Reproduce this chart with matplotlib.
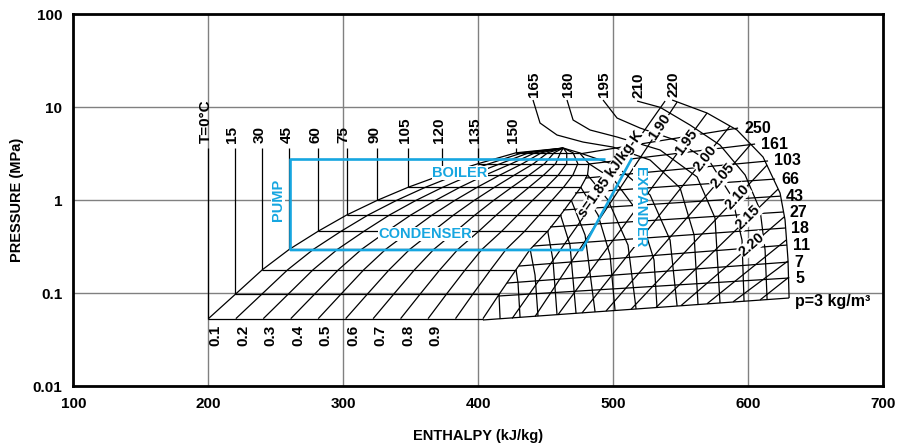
import numpy as np
import matplotlib
matplotlib.use("Agg")
import matplotlib.pyplot as plt

plt.rcParams['font.family'] = ['Liberation Sans', 'DejaVu Sans']
plt.rcParams['font.weight'] = 'bold'
plt.rcParams['axes.labelweight'] = 'bold'

# ---- saturation dome (h in kJ/kg, p in MPa) ----
sat_T = [0, 15, 30, 45, 60, 75, 90, 105, 120, 135, 150]
sat_p = [0.053, 0.097, 0.178, 0.295, 0.463, 0.69, 0.99, 1.37, 1.86, 2.46, 3.22]
sat_hl = [200, 220, 240, 260, 281.5, 302.5, 325, 348, 373, 400, 428]
sat_hv = [403.5, 415.5, 428, 438.5, 451.5, 461, 469, 476, 481, 482, 475]
crit_h, crit_p = 463, 3.62
liq_top_p = 3.62
qualities = [0.1, 0.2, 0.3, 0.4, 0.5, 0.6, 0.7, 0.8, 0.9]

# ---- vapour isotherms starting on the saturated vapour line ----
vap_isotherms = {
    15: ([415.4, 416.2], [0.097, 0.0525]),
    30: ([428, 429.5, 431], [0.178, 0.128, 0.0547]),
    45: ([438.5, 442.1, 444.3], [0.295, 0.156, 0.0564]),
    60: ([451.5, 455.4, 458.4], [0.463, 0.226, 0.0584]),
    75: ([461, 468, 472.5], [0.69, 0.328, 0.0603]),
    90: ([469, 479.2, 486.6], [0.99, 0.42, 0.0625]),
    105: ([476, 488.8, 497.7, 501.4], [1.37, 0.69, 0.256, 0.0648]),
    120: ([481, 496.2, 511, 517], [1.86, 1.0, 0.328, 0.0673]),
    135: ([482, 500.7, 520, 530.3, 532.5], [2.46, 1.64, 0.69, 0.226, 0.070]),
    150: ([475, 501.4, 527.4, 542.2, 547.4], [3.22, 2.38, 1.13, 0.371, 0.0725]),
}

# ---- supercritical isotherms coming down from the top labels ----
super_isotherms = {
    165: ([440.6, 445.8, 458.4, 477.7, 499.9, 527.4, 549.6, 560.0, 562.9],
          [11.9, 6.73, 5.0, 4.2, 3.71, 2.69, 1.35, 0.42, 0.0752]),
    180: ([465.8, 470.3, 482.9, 502.9, 534.8, 562.2, 575.5, 579.2],
          [11.9, 7.25, 5.66, 4.76, 3.45, 1.77, 0.641, 0.0782]),
    195: ([492.5, 502.9, 520.0, 545.9, 571.8, 588.1, 595.5, 597.0],
          [11.9, 7.61, 5.94, 4.42, 2.56, 1.077, 0.371, 0.0816]),
    210: ([517.7, 534.8, 557.0, 579.2, 597.8, 608.9, 612.6, 614.1],
          [11.6, 9.93, 6.40, 3.90, 1.86, 0.781, 0.290, 0.0849]),
    220: ([543.7, 569.6, 591.8, 611.1, 623.7, 627.4, 629.6, 630.4],
          [11.9, 8.62, 5.66, 2.90, 1.19, 0.610, 0.226, 0.0884]),
}

# ---- isochores (kg/m3): start and end points ----
rho_vals = [3, 5, 7, 11, 18, 27, 43, 66, 103, 161, 250]
rho_h0 = [403.5, 414.7, 421.3, 430.2, 440.6, 453.2, 462.9, 471.7, 479.2, 482.1, 476.2]
rho_p0 = [0.0513, 0.0928, 0.128, 0.195, 0.320, 0.513, 0.781, 1.19, 1.72, 2.44, 3.15]
rho_h1 = [630.4, 630.4, 629.7, 628.9, 627.4, 626.0, 623.7, 620.0, 614.8, 605.2, 592.6]
rho_p1 = [0.0884, 0.145, 0.215, 0.328, 0.500, 0.743, 1.10, 1.68, 2.63, 4.0, 5.94]

# ---- isentropes (kJ/kg-K): start and end points ----
s_vals = [1.85, 1.90, 1.95, 2.00, 2.05, 2.10, 2.15, 2.20, 2.25, 2.30, 2.35]
s_h0 = [425.1, 442.1, 459.1, 476.9, 494.7, 513.3, 531.8, 550.3, 569.6, 588.9, 608.9]
s_p0 = [0.0532, 0.0559, 0.0583, 0.061, 0.064, 0.0669, 0.070, 0.0732, 0.0767, 0.0804, 0.0843]
s_h1 = [538.5, 547.4, 569.6, 586.6, 601.5, 614.1, 622.2, 626.7, 628.2, 629.6, 630.4]
s_p1 = [11.6, 11.3, 8.62, 6.25, 3.90, 2.38, 1.31, 0.657, 0.371, 0.221, 0.1486]
s_label_h = [498.4, 534.8, 554.0, 568.1, 581.5, 591.8, 600.0, 603.0]
s_label_p = [1.90, 6.09, 4.20, 2.83, 1.81, 1.077, 0.657, 0.328]

# ---- cycle (blue) ----
cycle_h = [260.5, 260.5, 494.0]
cycle_p = [0.29, 2.76, 2.76]
exp_h = [514.0, 476.9, 260.5]
exp_p = [2.83, 0.29, 0.29]

BLUE = '#16a6e0'
blk = dict(color='black', lw=0.9, solid_capstyle='butt', zorder=2)

fig = plt.figure(figsize=(8.98, 4.44), dpi=100)
ax = fig.add_axes([0.0818, 0.1306, 0.9015, 0.8378])
ax.set_yscale('log')
ax.set_xlim(100, 700)
ax.set_ylim(0.01, 100)
ax.set_xticks([100, 200, 300, 400, 500, 600, 700])
ax.set_yticks([0.01, 0.1, 1, 10, 100])
ax.set_yticklabels(['0.01', '0.1', '1', '10', '100'])
ax.minorticks_off()
ax.tick_params(length=0, labelsize=11, pad=8)
ax.grid(True, color='#808080', lw=1.0, zorder=0)
ax.set_axisbelow(True)
for sp in ax.spines.values():
    sp.set_linewidth(2.0)
ax.set_xlabel('ENTHALPY (kJ/kg)', fontsize=10.5, labelpad=13)
ax.set_ylabel('PRESSURE (MPa)', fontsize=10.5, labelpad=6)

hl = np.array(sat_hl)
hv = np.array(sat_hv)
ps = np.array(sat_p)

# dome
ax.plot(list(hl) + [crit_h], list(ps) + [crit_p], **blk)
ax.plot(list(hv) + [crit_h], list(ps) + [crit_p], **blk)
for h1, h2, p in zip(hl, hv, ps):
    ax.plot([h1, h2], [p, p], **blk)
for q in qualities:
    hq = hl + q * (hv - hl)
    ax.plot(list(hq) + [crit_h], list(ps) + [crit_p], **blk)
    ax.annotate(f'{q:.1f}', (hq[0], ps[0]), xytext=(-20, -17), textcoords='offset pixels',
                rotation=90, ha='center', va='center', fontsize=11)

# liquid isotherms
for T, h, p in zip(sat_T, hl, ps):
    ax.plot([h, h], [p, liq_top_p], **blk)
    ax.annotate('T=0°C' if T == 0 else str(T), (h, liq_top_p), xytext=(-3, 5),
                textcoords='offset pixels', rotation=90, ha='center', va='bottom', fontsize=11)

for T, (hh, pp) in vap_isotherms.items():
    ax.plot(hh, pp, **blk)
for T, (hh, pp) in super_isotherms.items():
    ax.plot(hh, pp, **blk)
    ax.annotate(str(T), (hh[0], pp[0]), xytext=(1, 3), textcoords='offset pixels',
                rotation=90, ha='center', va='bottom', fontsize=11)

for r, h0, p0, h1, p1 in zip(rho_vals, rho_h0, rho_p0, rho_h1, rho_p1):
    ax.plot([h0, h1], [p0, p1], **blk)
    txt = 'p=3 kg/m³' if r == 3 else str(r)
    ax.annotate(txt, (h1, p1), xytext=(6, -4 if r == 3 else 0), textcoords='offset pixels',
                ha='left', va='center', fontsize=11.5)

for s, h0, p0, h1, p1 in zip(s_vals, s_h0, s_p0, s_h1, s_p1):
    ax.plot([h0, h1], [p0, p1], **blk)

# isentrope labels rotated along their lines
for i, (h, p) in enumerate(zip(s_label_h, s_label_p)):
    a = ax.transData.transform((s_h0[i], s_p0[i]))
    b = ax.transData.transform((s_h1[i], s_p1[i]))
    ang = np.degrees(np.arctan2(b[1] - a[1], b[0] - a[0]))
    txt = 's=1.85 kJ/kg-K' if i == 0 else f'{s_vals[i]:.2f}'
    ax.text(h, p, txt, rotation=ang, rotation_mode='anchor', ha='center', va='center',
            fontsize=10.5, zorder=3,
            bbox=dict(fc='white', ec='none', pad=0.3))

# cycle
ax.plot(cycle_h, cycle_p, color=BLUE, lw=1.9, zorder=4, solid_capstyle='butt')
ax.plot(exp_h, exp_p, color=BLUE, lw=1.9, zorder=4, solid_capstyle='butt')
bl = dict(color=BLUE, fontsize=10.5, fontweight='bold', zorder=5, ha='center', va='center',
          bbox=dict(fc='white', ec='none', pad=0.2))
ax.text(251.7, 1.0, 'PUMP', rotation=90, **bl)
ax.text(386.5, 1.95, 'BOILER', **bl)
ax.text(360.5, 0.431, 'CONDENSER', **bl)
ax.text(520.0, 0.841, 'EXPANDER', rotation=-90, **bl)

fig.savefig('out.png', dpi=100)
